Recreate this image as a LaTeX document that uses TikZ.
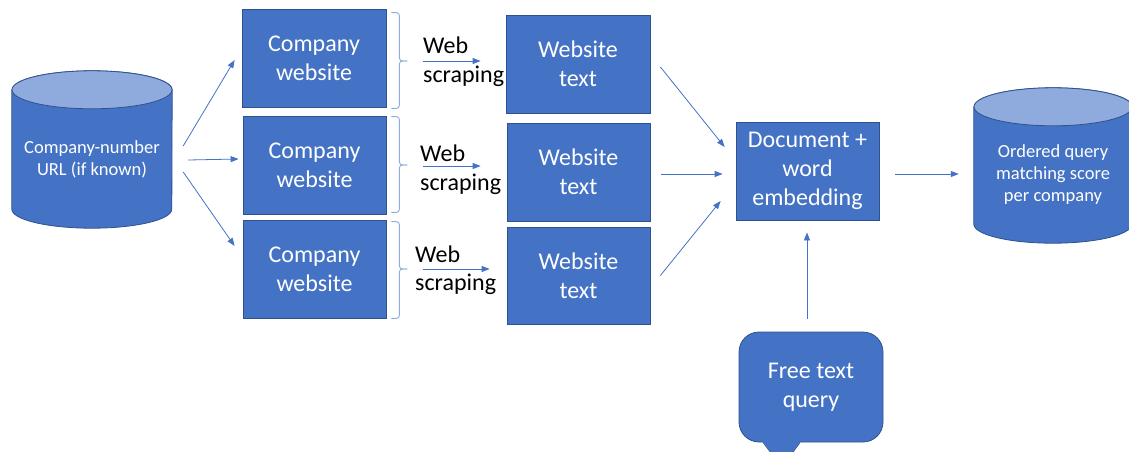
\documentclass[tikz,border=0pt]{standalone}
\usepackage{fontspec}
\setmainfont{Carlito}
\usetikzlibrary{arrows.meta,calc,backgrounds}
\definecolor{ofill}{HTML}{4472C4}
\definecolor{oline}{HTML}{2F528F}
\definecolor{otop}{HTML}{8FAADC}
\begin{document}
\begin{tikzpicture}[x=1pt,y=-1pt,
  box/.style={draw=oline, line width=0.8pt, fill=ofill, text=white, align=center,
    font=\fontsize{24}{29}\selectfont, inner sep=0pt},
  cyltext/.style={text=white, align=center, font=\fontsize{18.5}{22}\selectfont, inner sep=0pt},
  arr/.style={draw=ofill, line width=0.8pt, -{Triangle[length=8pt,width=6pt]}},
  lbl/.style={font=\fontsize{24}{29}\selectfont, inner sep=0pt, anchor=base west},
  brc/.style={draw=otop, line width=0.9pt, rounded corners=3pt},
  cylbody/.style={fill=ofill, draw=oline, line width=0.8pt},
  cyltop/.style={fill=otop, draw=oline, line width=0.8pt}
]
\useasboundingbox (0,0) rectangle (1129,452);
\clip (0,0) rectangle (1129,452);

% left cylinder
\node[cyltext, minimum width=160pt, minimum height=138pt] (cylL) at (92,159) {Company-number\\URL (if known)};
\begin{scope}[on background layer]
  \filldraw[cylbody] (cylL.north west) -- ($(cylL.south west)+(0,-19)$)
    arc[start angle=180, end angle=360, x radius=80pt, y radius=19pt]
    -- (cylL.north east)
    arc[start angle=0, end angle=180, x radius=80pt, y radius=19pt] -- cycle;
  \filldraw[cyltop] (cylL.north) ellipse[x radius=80pt, y radius=19pt];
\end{scope}

% right cylinder
\node[cyltext, minimum width=158pt, minimum height=136pt] (cylR) at (1053,175) {Ordered query\\matching score\\per company};
\begin{scope}[on background layer]
  \filldraw[cylbody] (cylR.north west) -- ($(cylR.south west)+(0,-19)$)
    arc[start angle=180, end angle=360, x radius=79pt, y radius=19pt]
    -- (cylR.north east)
    arc[start angle=0, end angle=180, x radius=79pt, y radius=19pt] -- cycle;
  \filldraw[cyltop] (cylR.north) ellipse[x radius=79pt, y radius=19pt];
\end{scope}

% company website boxes
\node[box, minimum width=144pt, minimum height=98pt] (cw1) at (314,58) {Company\\website};
\node[box, minimum width=143pt, minimum height=98pt] (cw2) at (314.5,165) {Company\\website};
\node[box, minimum width=143pt, minimum height=98pt] (cw3) at (314.5,269) {Company\\website};

% website text boxes
\node[box, minimum width=144pt, minimum height=98pt] (wt1) at (578,64) {Website\\text};
\node[box, minimum width=143pt, minimum height=98pt] (wt2) at (578.5,172) {Website\\text};
\node[box, minimum width=143pt, minimum height=97pt] (wt3) at (578.5,275.5) {Website\\text};

% document box
\node[box, minimum width=143pt, minimum height=98pt] (doc) at (807.5,171) {Document +\\word\\embedding};

% callout
\node[box, rounded corners=20pt, minimum width=144pt, minimum height=110pt] (q) at (811,387) {Free text\\query};
\fill[ofill] ($(q.south)+(-48.5,-1.5)$) -- ($(q.south)+(-29,25)$) -- ($(q.south)+(-10.5,-1.5)$) -- cycle;
\draw[oline, line width=0.8pt] ($(q.south)+(-48,0)$) -- ($(q.south)+(-29,25)$) -- ($(q.south)+(-11,0)$);

% braces
\draw[brc] ($(cw1.north east)+(5,4)$) -- ++(8,0) |- ($(cw1.east)+(21,3)$);
\draw[brc] ($(cw1.south east)+(5,1)$) -- ++(8,0) |- ($(cw1.east)+(21,3)$);
\draw[brc] ($(cw2.north east)+(5,1)$) -- ++(8,0) |- ($(cw2.east)+(21,0)$);
\draw[brc] ($(cw2.south east)+(5,-2)$) -- ++(8,0) |- ($(cw2.east)+(21,0)$);
\draw[brc] ($(cw3.north east)+(5,2)$) -- ++(8,0) |- ($(cw3.east)+(21,0)$);
\draw[brc] ($(cw3.south east)+(5,0)$) -- ++(8,0) |- ($(cw3.east)+(21,0)$);

% web scraping labels
\node[lbl] (web1) at (423,53) {Web};
\node[lbl] (scr1) at (423,82.5) {scraping};
\node[lbl] (web2) at (420,161.5) {Web};
\node[lbl] (scr2) at (420,190) {scraping};
\node[lbl] (web3) at (415,262) {Web};
\node[lbl] (scr3) at (415,290.5) {scraping};

% arrows: cylinder -> company websites
\draw[arr] ($(cylL.east)+(11,-13)$) -- ($(cw1.west)+(-7,2)$);
\draw[arr] ($(cylL.east)+(16,1)$) -- ($(cw2.west)+(-4,-6)$);
\draw[arr] ($(cylL.east)+(11,13)$) -- ($(cw3.west)+(-8,-23)$);

% web scraping arrows
\draw[arr] ($(cw1.east)+(37,3)$) -- ($(wt1.west)+(-25,-3)$);
\draw[arr] ($(cw2.east)+(37,1)$) -- ($(wt2.west)+(-26,-6)$);
\draw[arr] ($(cw3.east)+(37,0)$) -- ($(wt3.west)+(-17,-6.5)$);

% website text -> document
\draw[arr] ($(wt1.east)+(10,3)$) -- ($(doc.west)+(-11,-24)$);
\draw[arr] ($(wt2.east)+(11,2)$) -- ($(doc.west)+(-13,3)$);
\draw[arr] ($(wt3.east)+(10,0)$) -- ($(doc.west)+(-15,30)$);

% document -> result, query -> document
\draw[arr] ($(doc.east)+(16,3)$) -- ($(cylR.west)+(-15,-1)$);
\draw[arr] ($(q.north)+(-4,-13)$) -- ($(doc.south)+(-0.5,12)$);
\end{tikzpicture}
\end{document}
